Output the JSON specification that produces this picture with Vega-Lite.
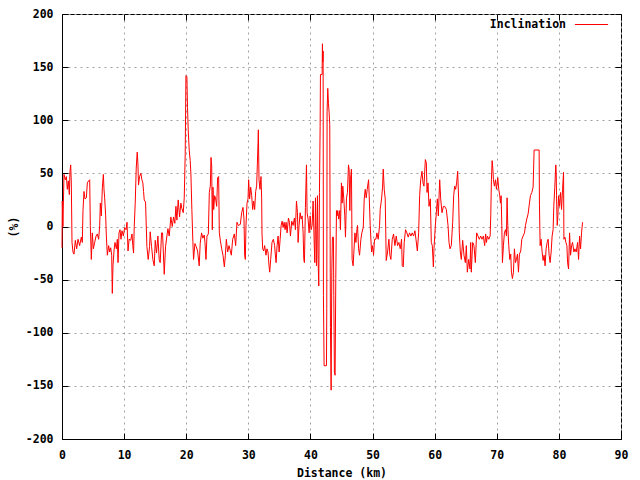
{
"$schema": "https://vega.github.io/schema/vega-lite/v6.json",
"width": 559, "height": 425,
"autosize": {"type": "none"},
"padding": {"left": 62, "top": 14, "right": 19, "bottom": 41},
"background": "white",
"config": {
  "view": {"stroke": "black", "strokeWidth": 1},
  "font": "DejaVu Sans Mono",
  "axis": {"labelFont": "DejaVu Sans Mono", "labelFontWeight": "bold", "labelFontSize": 11.5, "labelColor": "black",
           "titleFont": "DejaVu Sans Mono", "titleFontWeight": "bold", "titleFontSize": 11.5, "titleColor": "black",
           "domainColor": "black", "tickColor": "black", "gridColor": "#a0a0a0", "gridDash": [2, 4], "gridWidth": 1, "tickSize": -6}
},
"data": {"values": [
{"d":0,"v":-20},{"d":0.05,"v":24},{"d":0.15,"v":0},{"d":0.32,"v":49},{"d":0.54,"v":44},{"d":0.7,"v":47},{"d":0.86,"v":35},{"d":1.02,"v":43},{"d":1.18,"v":30},{"d":1.29,"v":52},{"d":1.4,"v":58},{"d":1.5,"v":41},{"d":1.61,"v":-15},{"d":1.77,"v":-24},{"d":1.93,"v":-26},{"d":2.15,"v":-13},{"d":2.36,"v":-21},{"d":2.58,"v":-12},{"d":2.84,"v":-18},{"d":3.11,"v":-10},{"d":3.27,"v":-15},{"d":3.38,"v":15},{"d":3.54,"v":33},{"d":3.7,"v":26},{"d":3.92,"v":27},{"d":4.08,"v":41},{"d":4.29,"v":43},{"d":4.46,"v":44},{"d":4.56,"v":1},{"d":4.72,"v":-31},{"d":4.88,"v":-6},{"d":5.05,"v":-21},{"d":5.26,"v":-15},{"d":5.48,"v":-9},{"d":5.69,"v":-7},{"d":5.9,"v":-12},{"d":6.07,"v":1},{"d":6.17,"v":22},{"d":6.33,"v":10},{"d":6.5,"v":37},{"d":6.66,"v":49},{"d":6.76,"v":35},{"d":6.87,"v":27},{"d":7.03,"v":10},{"d":7.14,"v":-9},{"d":7.3,"v":-27},{"d":7.51,"v":-18},{"d":7.68,"v":-24},{"d":7.84,"v":-20},{"d":8.0,"v":-27},{"d":8.1,"v":-63},{"d":8.21,"v":-37},{"d":8.37,"v":-23},{"d":8.53,"v":-15},{"d":8.75,"v":-21},{"d":8.91,"v":-12},{"d":9.02,"v":-34},{"d":9.18,"v":-6},{"d":9.34,"v":-3},{"d":9.5,"v":-12},{"d":9.66,"v":-4},{"d":9.88,"v":-9},{"d":10.09,"v":-1},{"d":10.31,"v":-3},{"d":10.47,"v":4},{"d":10.63,"v":-23},{"d":10.8,"v":-12},{"d":11.06,"v":-13},{"d":11.27,"v":-7},
{"d":11.4,"v":-18},{"d":11.52,"v":-25},{"d":11.63,"v":0},{"d":11.79,"v":22},{"d":11.95,"v":55},{"d":12.11,"v":70},{"d":12.22,"v":59},{"d":12.32,"v":39},{"d":12.49,"v":47},{"d":12.7,"v":50},{"d":12.86,"v":44},{"d":13.02,"v":41},{"d":13.13,"v":33},{"d":13.24,"v":25},{"d":13.45,"v":23},{"d":13.67,"v":-19},{"d":13.88,"v":-31},{"d":14.1,"v":-19},{"d":14.2,"v":-5},{"d":14.42,"v":-19},{"d":14.63,"v":-31},{"d":14.85,"v":-37},{"d":15.01,"v":-13},{"d":15.22,"v":-25},{"d":15.44,"v":-9},{"d":15.65,"v":-31},{"d":15.81,"v":-34},{"d":16.03,"v":-6},{"d":16.19,"v":-6},{"d":16.46,"v":-45},{"d":16.67,"v":-19},{"d":16.89,"v":-9},{"d":17.05,"v":-2},{"d":17.26,"v":-9},{"d":17.53,"v":9},{"d":17.75,"v":0},{"d":17.96,"v":9},{"d":18.17,"v":3},{"d":18.34,"v":19},{"d":18.5,"v":6},{"d":18.71,"v":25},{"d":18.93,"v":9},{"d":19.14,"v":22},{"d":19.3,"v":17},{"d":19.52,"v":13},{"d":19.68,"v":27},{"d":19.84,"v":69},{"d":19.95,"v":142},{"d":20.11,"v":141},{"d":20.21,"v":112},{"d":20.32,"v":91},{"d":20.48,"v":72},{"d":20.64,"v":62},{"d":20.75,"v":50},{"d":20.91,"v":16},{"d":21.07,"v":-14},{"d":21.18,"v":-31},{"d":21.4,"v":-16},{"d":21.61,"v":-19},{"d":21.83,"v":-23},{"d":22.09,"v":-37},{"d":22.25,"v":-16},{"d":22.47,"v":-6},{"d":22.68,"v":-11},{"d":22.9,"v":-8},
{"d":23.02,"v":-15},{"d":23.18,"v":-31},{"d":23.34,"v":-9},{"d":23.56,"v":-7},{"d":23.72,"v":32},{"d":23.88,"v":38},{"d":23.99,"v":65},{"d":24.1,"v":57},{"d":24.2,"v":-3},{"d":24.31,"v":37},{"d":24.42,"v":16},{"d":24.58,"v":29},{"d":24.74,"v":26},{"d":24.9,"v":19},{"d":25.06,"v":46},{"d":25.22,"v":47},{"d":25.33,"v":-6},{"d":25.49,"v":-13},{"d":25.71,"v":-21},{"d":25.92,"v":-27},{"d":26.14,"v":-38},{"d":26.3,"v":-27},{"d":26.46,"v":-12},{"d":26.67,"v":-24},{"d":26.89,"v":-18},{"d":27.1,"v":-23},{"d":27.26,"v":-27},{"d":27.48,"v":-12},{"d":27.75,"v":-7},{"d":27.96,"v":-18},{"d":28.17,"v":4},{"d":28.39,"v":1},{"d":28.71,"v":2},{"d":28.93,"v":13},{"d":29.14,"v":18},{"d":29.3,"v":7},{"d":29.41,"v":-27},{"d":29.52,"v":-31},{"d":29.62,"v":1},{"d":29.79,"v":22},{"d":29.95,"v":26},{"d":30.05,"v":44},{"d":30.21,"v":26},{"d":30.38,"v":37},{"d":30.54,"v":29},{"d":30.7,"v":16},{"d":30.86,"v":24},{"d":31.02,"v":16},{"d":31.18,"v":33},{"d":31.34,"v":38},{"d":31.45,"v":58},{"d":31.56,"v":79},{"d":31.61,"v":91},{"d":31.72,"v":44},{"d":31.88,"v":35},{"d":32.04,"v":47},{"d":32.15,"v":26},{"d":32.2,"v":-6},{"d":32.31,"v":-21},{"d":32.47,"v":-23},{"d":32.63,"v":-18},{"d":32.84,"v":-27},{"d":33.0,"v":-21},{"d":33.17,"v":-24},{"d":33.33,"v":-37},{"d":33.44,"v":-43},{"d":33.6,"v":-31},{"d":33.81,"v":-15},{"d":34.03,"v":-12},{"d":34.24,"v":-18},
{"d":34.31,"v":-24},{"d":34.47,"v":-34},{"d":34.63,"v":-18},{"d":34.79,"v":-9},{"d":34.96,"v":-24},{"d":35.12,"v":-12},{"d":35.28,"v":1},{"d":35.44,"v":5},{"d":35.6,"v":-1},{"d":35.76,"v":4},{"d":35.92,"v":-3},{"d":36.08,"v":4},{"d":36.24,"v":-6},{"d":36.46,"v":8},{"d":36.62,"v":4},{"d":36.78,"v":-9},{"d":36.99,"v":5},{"d":37.21,"v":1},{"d":37.42,"v":8},{"d":37.58,"v":-3},{"d":37.75,"v":24},{"d":37.91,"v":13},{"d":38.01,"v":-15},{"d":38.17,"v":1},{"d":38.34,"v":13},{"d":38.5,"v":7},{"d":38.66,"v":10},{"d":38.82,"v":-6},{"d":38.93,"v":-31},{"d":39.03,"v":-34},{"d":39.19,"v":18},{"d":39.36,"v":58},{"d":39.46,"v":13},{"d":39.62,"v":7},{"d":39.79,"v":-6},{"d":39.95,"v":10},{"d":40.11,"v":-3},{"d":40.27,"v":1},{"d":40.43,"v":24},{"d":40.59,"v":-12},{"d":40.7,"v":-34},{"d":40.81,"v":27},{"d":40.97,"v":-37},{"d":41.13,"v":29},{"d":41.23,"v":-31},{"d":41.34,"v":-56},
{"d":41.45,"v":32},{"d":41.56,"v":94},{"d":41.61,"v":143},{"d":41.88,"v":143},{"d":41.93,"v":172},{"d":41.99,"v":155},{"d":42.04,"v":165},{"d":42.09,"v":-65},{"d":42.2,"v":-131},{"d":42.58,"v":-131},{"d":42.63,"v":-77},{"d":42.68,"v":108},{"d":42.79,"v":130},{"d":42.9,"v":116},{"d":43.01,"v":107},{"d":43.11,"v":96},{"d":43.22,"v":-95},{"d":43.33,"v":-154},{"d":43.44,"v":-43},{"d":43.54,"v":-10},{"d":43.7,"v":-10},{"d":43.76,"v":-65},{"d":43.86,"v":-137},{"d":43.97,"v":-140},{"d":44.08,"v":-49},{"d":44.19,"v":15},{"d":44.29,"v":10},{"d":44.4,"v":15},{"d":44.56,"v":7},{"d":44.72,"v":15},{"d":44.83,"v":-3},{"d":44.99,"v":41},{"d":45.1,"v":22},{"d":45.21,"v":38},{"d":45.37,"v":26},{"d":45.53,"v":10},{"d":45.64,"v":-10},{"d":45.8,"v":27},{"d":45.96,"v":32},{"d":46.12,"v":58},{"d":46.23,"v":54},{"d":46.34,"v":15},{"d":46.44,"v":44},{"d":46.6,"v":54},{"d":46.71,"v":-31},{"d":46.87,"v":-37},
{"d":47.16,"v":-6},{"d":47.32,"v":-15},{"d":47.48,"v":-3},{"d":47.58,"v":1},{"d":47.75,"v":-21},{"d":47.91,"v":-27},{"d":48.12,"v":-12},{"d":48.28,"v":-6},{"d":48.5,"v":-1},{"d":48.66,"v":26},{"d":48.82,"v":35},{"d":48.98,"v":27},{"d":49.14,"v":35},{"d":49.36,"v":44},{"d":49.46,"v":29},{"d":49.62,"v":1},{"d":49.84,"v":-24},{"d":50.0,"v":-18},{"d":50.16,"v":-27},{"d":50.32,"v":-12},{"d":50.54,"v":-12},{"d":50.7,"v":-6},{"d":50.91,"v":-12},{"d":51.13,"v":1},{"d":51.23,"v":16},{"d":51.45,"v":26},{"d":51.61,"v":37},{"d":51.72,"v":54},{"d":51.88,"v":35},{"d":52.04,"v":26},{"d":52.2,"v":-32},{"d":52.42,"v":-24},{"d":52.63,"v":-12},{"d":52.79,"v":-27},{"d":52.95,"v":-31},{"d":53.17,"v":-12},{"d":53.38,"v":-7},{"d":53.6,"v":-18},{"d":53.81,"v":-9},{"d":54.03,"v":-18},{"d":54.24,"v":-15},{"d":54.46,"v":-21},{"d":54.67,"v":-12},{"d":54.78,"v":-37},{"d":54.94,"v":-38},{"d":55.1,"v":-15},{"d":55.31,"v":-3},{"d":55.53,"v":-6},{"d":55.74,"v":-10},{"d":55.96,"v":-6},{"d":56.17,"v":-9},{"d":56.39,"v":-6},{"d":56.6,"v":-9},{"d":56.82,"v":-4},
{"d":56.99,"v":-12},{"d":57.21,"v":-23},{"d":57.42,"v":-6},{"d":57.58,"v":29},{"d":57.75,"v":44},{"d":57.96,"v":52},{"d":58.12,"v":41},{"d":58.28,"v":38},{"d":58.5,"v":63},{"d":58.66,"v":60},{"d":58.77,"v":32},{"d":58.93,"v":41},{"d":59.09,"v":19},{"d":59.3,"v":26},{"d":59.46,"v":-15},{"d":59.62,"v":-18},{"d":59.79,"v":-38},{"d":59.89,"v":-21},{"d":60.11,"v":1},{"d":60.27,"v":13},{"d":60.43,"v":26},{"d":60.59,"v":10},{"d":60.81,"v":44},{"d":60.97,"v":26},{"d":61.18,"v":13},{"d":61.4,"v":19},{"d":61.61,"v":19},{"d":61.88,"v":16},{"d":62.15,"v":1},{"d":62.31,"v":-15},{"d":62.47,"v":-21},{"d":62.68,"v":-18},{"d":62.9,"v":4},{"d":63.06,"v":29},{"d":63.22,"v":38},{"d":63.38,"v":35},{"d":63.54,"v":41},{"d":63.7,"v":52},{"d":63.86,"v":26},{"d":63.97,"v":-6},{"d":64.13,"v":-24},{"d":64.29,"v":-31},{"d":64.51,"v":-13},{"d":64.72,"v":-27},{"d":64.94,"v":-34},{"d":65.1,"v":-18},{"d":65.26,"v":-43},{"d":65.48,"v":-31},{"d":65.69,"v":-40},{"d":65.8,"v":-15},{"d":65.9,"v":-43},{"d":66.12,"v":-15},{"d":66.33,"v":-18},{"d":66.55,"v":-34},{"d":66.76,"v":-6},{"d":66.98,"v":-9},{"d":67.19,"v":-12},{"d":67.41,"v":-9},{"d":67.62,"v":-12},{"d":67.84,"v":-9},{"d":68.05,"v":-18},{"d":68.21,"v":-7},
{"d":68.34,"v":-15},{"d":68.5,"v":-9},{"d":68.71,"v":-12},{"d":68.93,"v":-9},{"d":69.03,"v":10},{"d":69.14,"v":44},{"d":69.25,"v":62},{"d":69.36,"v":55},{"d":69.46,"v":44},{"d":69.62,"v":38},{"d":69.79,"v":44},{"d":69.95,"v":35},{"d":70.16,"v":46},{"d":70.32,"v":35},{"d":70.48,"v":29},{"d":70.59,"v":22},{"d":70.7,"v":29},{"d":70.81,"v":1},{"d":70.91,"v":-34},{"d":71.07,"v":-18},{"d":71.23,"v":-6},{"d":71.4,"v":-3},{"d":71.56,"v":-9},{"d":71.66,"v":27},{"d":71.77,"v":1},{"d":71.93,"v":-18},{"d":72.09,"v":-31},{"d":72.25,"v":-26},{"d":72.36,"v":-43},{"d":72.52,"v":-49},{"d":72.68,"v":-43},{"d":72.84,"v":-21},{"d":73.01,"v":-34},{"d":73.17,"v":-31},{"d":73.33,"v":-26},{"d":73.49,"v":-43},{"d":73.65,"v":-26},{"d":73.86,"v":-23},{"d":74.03,"v":-12},{"d":74.24,"v":-9},{"d":74.46,"v":-6},{"d":74.62,"v":1},{"d":74.83,"v":7},{"d":75.05,"v":12},{"d":75.26,"v":22},{"d":75.42,"v":29},{"d":75.64,"v":32},{"d":75.85,"v":37},{"d":76.01,"v":72},{"d":76.82,"v":72},{"d":76.87,"v":21},{"d":76.98,"v":-18},{"d":77.14,"v":-12},{"d":77.3,"v":-24},{"d":77.46,"v":-32},{"d":77.62,"v":-27},{"d":77.78,"v":-37},{"d":77.94,"v":-21},{"d":78.11,"v":-15},{"d":78.27,"v":-12},{"d":78.43,"v":-27},{"d":78.59,"v":-34},{"d":78.75,"v":-24},{"d":78.91,"v":-9},{"d":79.07,"v":-3},{"d":79.18,"v":19},{"d":79.34,"v":37},{"d":79.5,"v":58},
{"d":79.57,"v":51},{"d":79.62,"v":29},{"d":79.73,"v":1},{"d":79.84,"v":10},{"d":79.95,"v":29},{"d":80.11,"v":19},{"d":80.27,"v":32},{"d":80.43,"v":16},{"d":80.59,"v":35},{"d":80.75,"v":51},{"d":80.81,"v":-12},{"d":80.97,"v":-10},{"d":81.13,"v":-15},{"d":81.29,"v":-18},{"d":81.4,"v":-34},{"d":81.56,"v":-40},{"d":81.72,"v":-6},{"d":81.88,"v":-27},{"d":82.04,"v":-18},{"d":82.2,"v":-15},{"d":82.42,"v":-24},{"d":82.58,"v":-21},{"d":82.79,"v":-24},{"d":83.01,"v":-15},{"d":83.17,"v":-31},{"d":83.33,"v":-9},{"d":83.49,"v":-21},{"d":83.65,"v":-6},{"d":83.81,"v":4}
]},
"layer": [
  {
    "mark": {"type": "line", "strokeWidth": 1, "interpolate": "linear"},
    "encoding": {
      "x": {"field": "d", "type": "quantitative", "scale": {"domain": [0, 90], "nice": false, "zero": false},
            "axis": {"values": [0,10,20,30,40,50,60,70,80,90], "title": "Distance (km)", "grid": true, "labelPadding": 16, "titlePadding": 7, "labelExpr": "'' + datum.value", "labelFlush": false}},
      "y": {"field": "v", "type": "quantitative", "scale": {"domain": [-200, 200], "nice": false},
            "axis": {"values": [-200,-150,-100,-50,0,50,100,150,200], "title": "(%)", "grid": true, "labelPadding": 15, "titlePadding": 6, "labelExpr": "'' + datum.value", "labelFlush": false}},
      "color": {"datum": "Inclination", "scale": {"range": ["#ff0000"]},
                "legend": {"orient": "none", "legendX": 512, "legendY": -7, "title": null, "symbolType": "stroke", "symbolSize": 1100, "symbolStrokeWidth": 1,
                           "labelFont": "DejaVu Sans Mono", "labelFontWeight": "bold", "labelFontSize": 11.5, "labelColor": "black", "labelAlign": "right", "labelOffset": -43, "padding": 0}}
    }
  },
  {
    "mark": {"type": "line", "strokeOpacity": 0},
    "encoding": {
      "x": {"field": "d", "type": "quantitative", "axis": {"orient": "top", "values": [0,10,20,30,40,50,60,70,80,90], "labels": false, "title": null, "grid": false, "domain": false}},
      "y": {"field": "v", "type": "quantitative", "axis": {"orient": "right", "values": [-200,-150,-100,-50,0,50,100,150,200], "labels": false, "title": null, "grid": false, "domain": false}}
    }
  }
],
"resolve": {"axis": {"x": "independent", "y": "independent"}}
}
